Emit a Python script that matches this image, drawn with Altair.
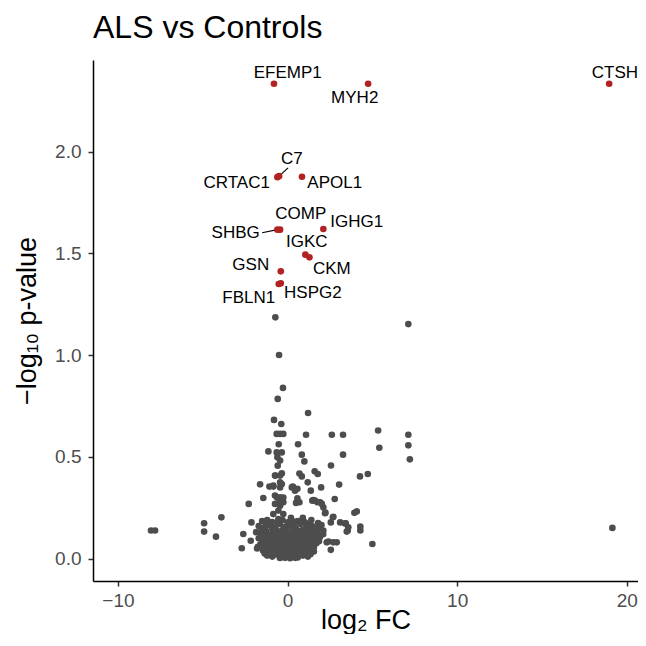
import altair as alt
import pandas as pd

# ---- non-significant proteins (log2 FC, -log10 p) ----
gray_x = [-0.72, 7.12, -0.50, -0.27, -0.58, 1.21, -0.80, -0.37, -0.64, -0.44, -0.25, 1.09, 2.61, 3.27,
          5.34, 7.12, 7.12, 5.41, 7.21, -0.52, 0.62, -1.13, -0.64, -0.34, 0.84, 3.27, -0.60, -0.44, 0.99,
          -0.58, 2.56, 1.60, 1.78, 0.70, 0.84, 4.27, 4.73, -0.72, -0.34, 1.19, -1.62, -1.07, -0.84, -0.44,
          -0.44, 0.31, 0.58, 1.98, 3.04, -1.43, -0.62, -0.44, -0.25, -0.44, 0.58, 0.50, 0.70, 1.46, 1.76,
          2.02, 2.78, -2.29, 2.11, 2.23, 3.94, 4.08, -3.90, -4.92, -4.92, -4.22, -8.05, -7.81, -2.70, -2.61,
          -2.17, -2.13, 2.67, 3.10, 3.43, 3.55, 4.29, 4.29, 5.00, 2.55, 2.31, 2.90, 19.15,
          -0.74, -0.44, -0.84, -0.34, -0.74, -0.44, -0.74, -0.25, -0.54, -0.84, -0.25, -0.54, 0.25, 0.15,
          0.25, 0.44, 1.37, 1.62, 1.52, 1.92, 2.21, 2.70, 2.55, 3.39, 3.58, 3.49, 1.92, 2.11, 2.41, 2.70,
          -1.50, -1.20, -0.90, -0.30, 0.20, 0.60, 1.00, 1.40, 1.80, 0.90,
          -1.70, -1.35, -1.05, -0.75, -0.45, -0.15, 0.15, 0.45, 0.75, 1.10, 1.45, 1.75, 2.00,
          -1.85, -1.55, -1.25, -0.95, -0.65, -0.35, -0.05, 0.25, 0.55, 0.85, 1.15, 1.45, 1.75, 2.10,
          -1.70, -1.40, -1.10, -0.80, -0.50, -0.20, 0.10, 0.40, 0.70, 1.00, 1.30, 1.60, 1.90,
          -1.60, -1.30, -1.00, -0.70, -0.40, -0.10, 0.20, 0.50, 0.80, 1.10, 1.40, 1.70,
          -1.80, -1.45, -1.15, -0.85, -0.55, -0.25, 0.05, 0.35, 0.65, 0.95, 1.25, 1.55,
          -1.20, -0.90, -0.60, -0.30, 0.00, 0.30, 0.60, 0.90, 1.20,
          -0.30, 0.00, 0.30, 0.10, -0.20, 0.40, -0.60, 0.60, -0.90, 0.90,
          -1.20, -0.60, 0.00, 0.45, 1.25,
          -1.50, -0.90, -0.30, 0.30, 0.90, 1.30, 1.60,
          -1.55, -1.25, -0.95, -0.65, -0.35, -0.05, 0.25, 0.55, 0.85, 1.15, 1.45, 1.75,
          -1.45, -1.15, -0.85, -0.55, -0.25, 0.05, 0.35, 0.65, 0.95, 1.25, 1.55, 1.85,
          -1.75, -1.45, -1.15, -0.85, -0.55, -0.25, 0.05, 0.35, 0.65, 0.95, 1.25, 1.55,
          -1.35, -1.05, -0.75, -0.45, -0.15, 0.15, 0.45, 0.75, 1.05, 1.35,
          -0.45, -0.15, 0.15, 0.45]
gray_y = [1.186, 1.153, 1.001, 0.839, 0.785, 0.716, 0.682, 0.662, 0.613, 0.613, 0.613, 0.609, 0.609, 0.609,
          0.630, 0.609, 0.557, 0.545, 0.488, 0.562, 0.562, 0.527, 0.522, 0.522, 0.511, 0.511, 0.498, 0.482, 0.478,
          0.457, 0.458, 0.429, 0.416, 0.418, 0.404, 0.404, 0.416, 0.408, 0.419, 0.375, 0.365, 0.354, 0.354, 0.375,
          0.350, 0.354, 0.343, 0.350, 0.364, 0.298, 0.300, 0.285, 0.300, 0.260, 0.296, 0.274, 0.277, 0.285, 0.277,
          0.269, 0.293, 0.269, 0.252, 0.226, 0.225, 0.232, 0.203, 0.174, 0.133, 0.108, 0.138, 0.138, 0.051, 0.121,
          0.088, 0.178, 0.203, 0.178, 0.173, 0.138, 0.157, 0.138, 0.072, 0.043, 0.080, 0.080, 0.151,
          0.408, 0.408, 0.359, 0.367, 0.310, 0.301, 0.269, 0.277, 0.236, 0.219, 0.219, 0.195, 0.187, 0.162,
          0.350, 0.334, 0.334, 0.285, 0.288, 0.277, 0.223, 0.206, 0.178, 0.173, 0.154, 0.133, 0.154, 0.138, 0.084, 0.080,
          0.185, 0.190, 0.180, 0.190, 0.200, 0.185, 0.180, 0.190, 0.175, 0.200,
          0.160, 0.155, 0.165, 0.150, 0.170, 0.155, 0.165, 0.150, 0.170, 0.155, 0.160, 0.150, 0.165,
          0.130, 0.125, 0.135, 0.120, 0.140, 0.125, 0.135, 0.120, 0.140, 0.125, 0.135, 0.120, 0.130, 0.120,
          0.100, 0.095, 0.105, 0.090, 0.110, 0.095, 0.105, 0.090, 0.110, 0.095, 0.100, 0.090, 0.105,
          0.070, 0.065, 0.075, 0.060, 0.080, 0.065, 0.075, 0.060, 0.080, 0.065, 0.070, 0.075,
          0.050, 0.040, 0.045, 0.035, 0.050, 0.040, 0.045, 0.030, 0.050, 0.040, 0.045, 0.035,
          0.015, 0.010, 0.020, 0.008, 0.012, 0.018, 0.006, 0.015, 0.010,
          0.060, 0.080, 0.050, 0.030, 0.025, 0.110, 0.095, 0.030, 0.055, 0.060,
          0.172, 0.176, 0.178, 0.180, 0.172,
          0.142, 0.145, 0.140, 0.145, 0.142, 0.147, 0.140,
          0.112, 0.115, 0.108, 0.115, 0.110, 0.115, 0.108, 0.115, 0.110, 0.115, 0.108, 0.112,
          0.083, 0.086, 0.080, 0.085, 0.082, 0.088, 0.080, 0.086, 0.082, 0.085, 0.083, 0.086,
          0.058, 0.055, 0.060, 0.052, 0.058, 0.055, 0.060, 0.052, 0.058, 0.055, 0.058, 0.055,
          0.025, 0.028, 0.022, 0.030, 0.022, 0.028, 0.022, 0.026, 0.028, 0.022,
          0.003, 0.004, 0.002, 0.004]

# ---- significant proteins ----
sig_genes = ["EFEMP1", "MYH2", "CTSH", "C7", "CRTAC1", "APOL1", "COMP", "SHBG", "IGHG1",
             "IGKC", "CKM", "GSN", "HSPG2", "FBLN1"]
sig_x = [-0.80, 4.75, 18.96, -0.50, -0.60, 0.85, -0.44, -0.60, 2.11, 1.05, 1.29, -0.40, -0.40, -0.52]
sig_y = [2.334, 2.334, 2.334, 1.880, 1.875, 1.877, 1.617, 1.617, 1.620, 1.494, 1.481, 1.412, 1.353, 1.350]
label_x = [0.01, 3.96, 19.30, 0.25, -3.00, 2.78, 0.78, -3.06, 4.08, 1.13, 2.61, -2.17, 1.49, -2.29]
label_y = [2.388, 2.265, 2.388, 1.966, 1.848, 1.848, 1.695, 1.602, 1.656, 1.558, 1.425, 1.445, 1.307, 1.283]

# ---- connector segments (from point to label) ----
seg_x = [-0.50, -0.60]
seg_y = [1.880, 1.617]
seg_x2 = [0.03, -1.50]
seg_y2 = [1.921, 1.602]

gray_df = pd.DataFrame({"x": gray_x, "y": gray_y})
sig_df = pd.DataFrame({"gene": sig_genes, "x": sig_x, "y": sig_y, "lx": label_x, "ly": label_y})
seg_df = pd.DataFrame({"x": seg_x, "y": seg_y, "x2": seg_x2, "y2": seg_y2})

xscale = alt.Scale(domain=[-11.47, 20.66], nice=False, zero=False)
yscale = alt.Scale(domain=[-0.11, 2.451], nice=False, zero=False)

xaxis = alt.Axis(title="log₂ FC", values=[-10, 0, 10, 20], format="d", grid=False,
                 labelPadding=5, titleY=47, titleBaseline="alphabetic")
yaxis = alt.Axis(title="−log₁₀ p-value", values=[0, 0.5, 1.0, 1.5, 2.0], format=".1f", grid=False,
                 labelPadding=7, titlePadding=13)

gray = alt.Chart(gray_df).mark_circle(size=44, opacity=1, color="#4D4D4D").encode(
    x=alt.X("x:Q", scale=xscale, axis=xaxis),
    y=alt.Y("y:Q", scale=yscale, axis=yaxis),
)

segs = alt.Chart(seg_df).mark_rule(color="black", strokeWidth=1.2).encode(
    x="x:Q", y="y:Q", x2="x2:Q", y2="y2:Q"
)

red = alt.Chart(sig_df).mark_circle(size=44, opacity=1, color="#B22222").encode(
    x="x:Q", y="y:Q"
)

labels = alt.Chart(sig_df).mark_text(fontSize=17, font="Liberation Sans", color="black",
                                     baseline="middle", align="center").encode(
    x="lx:Q", y="ly:Q", text="gene:N"
)

chart = alt.layer(gray, segs, red, labels).properties(
    width=545, height=521,
    title=alt.TitleParams("ALS vs Controls", anchor="start", frame="group", fontSize=32,
                          font="Liberation Sans", fontWeight="normal", color="black", offset=15),
    autosize=alt.AutoSizeParams(type="none"),
    padding={"left": 85, "top": 52, "right": 0, "bottom": 53},
).configure_view(stroke=None).configure_axis(
    domainColor="black", domainWidth=1.5, tickColor="#333333", tickWidth=1.5, tickSize=5,
    labelColor="#4D4D4D", labelFontSize=19, labelFont="Liberation Sans",
    titleFontSize=27, titleFont="Liberation Sans", titleFontWeight="normal", titleColor="black",
)

chart.save("out.html", embed_options={"renderer": "svg", "actions": False})
